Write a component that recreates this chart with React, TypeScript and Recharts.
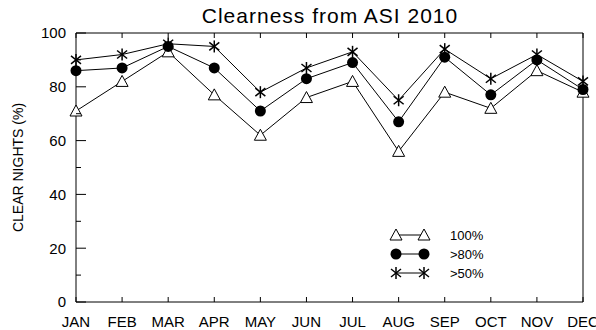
import React from 'react';
import { LineChart, Line, XAxis, YAxis, Legend } from 'recharts';

const months = ['JAN', 'FEB', 'MAR', 'APR', 'MAY', 'JUN', 'JUL', 'AUG', 'SEP', 'OCT', 'NOV', 'DEC'];
const clear100 = [71, 82, 93, 77, 62, 76, 82, 56, 78, 72, 86, 78];
const clear80 = [86, 87, 95, 87, 71, 83, 89, 67, 91, 77, 90, 79];
const clear50 = [90, 92, 96, 95, 78, 87, 93, 75, 94, 83, 92, 82];
const yTicks = [0, 10, 20, 30, 40, 50, 60, 70, 80, 90, 100];

const data = months.map((m, i) => ({
  month: m,
  c100: clear100[i],
  c80: clear80[i],
  c50: clear50[i],
}));

const FONT = '"Liberation Sans", Arial, sans-serif';

// inward tick marks, IDL style: long on multiples of 20, short in between
const LeftTick = ({ x, y, payload }: any) => {
  const major = payload.value % 20 === 0;
  return (
    <g>
      <line x1={x} y1={y} x2={x + (major ? 10 : 5)} y2={y} stroke="#000" />
      {major && (
        <text x={x - 10} y={y} dy="0.355em" textAnchor="end" fontSize={15} fontFamily={FONT} fill="#000">
          {payload.value}
        </text>
      )}
    </g>
  );
};

const RightTick = ({ x, y, payload }: any) => {
  const major = payload.value % 20 === 0;
  return <line x1={x} y1={y} x2={x - (major ? 10 : 5)} y2={y} stroke="#000" />;
};

const BottomTick = ({ x, y, payload }: any) => (
  <g>
    <line x1={x} y1={y} x2={x} y2={y - 5} stroke="#000" />
    <text x={x} y={y + 14} dy="0.71em" textAnchor="middle" fontSize={15} fontFamily={FONT} fill="#000">
      {payload.value}
    </text>
  </g>
);

const TopTick = ({ x, y }: any) => <line x1={x} y1={y} x2={x} y2={y + 5} stroke="#000" />;

const Triangle = ({ cx, cy }: any) => (
  <path
    d={`M${cx},${cy - 6} L${cx + 6},${cy + 5} L${cx - 6},${cy + 5} Z`}
    fill="#fff"
    stroke="#000"
    strokeWidth={1}
  />
);

const Circle = ({ cx, cy }: any) => <circle cx={cx} cy={cy} r={5.5} fill="#000" />;

const Star = ({ cx, cy }: any) => (
  <g stroke="#000" strokeWidth={1.5}>
    <line x1={cx} y1={cy - 6} x2={cx} y2={cy + 6} />
    <line x1={cx - 5} y1={cy - 4} x2={cx + 5} y2={cy + 4} />
    <line x1={cx - 5} y1={cy + 4} x2={cx + 5} y2={cy - 4} />
  </g>
);

const legendRows = [
  { label: '100%', Mark: Triangle },
  { label: '>80%', Mark: Circle },
  { label: '>50%', Mark: Star },
];

const LegendBox = () => (
  <svg width={110} height={60}>
    {legendRows.map(({ label, Mark }, i) => {
      const y = 9 + i * 19;
      return (
        <g key={label}>
          <line x1={12} y1={y} x2={40} y2={y} stroke="#000" />
          <Mark cx={12} cy={y} />
          <Mark cx={40} cy={y} />
          <text x={66} y={y + 5} fontSize={13} fontFamily={FONT} fill="#000">
            {label}
          </text>
        </g>
      );
    })}
  </svg>
);

export default function App() {
  return (
    <div style={{ position: 'absolute', left: 0, top: 0, width: 596, height: 330, background: '#fff' }}>
      <div
        style={{
          position: 'absolute',
          left: 77,
          width: 506,
          top: 4,
          textAlign: 'center',
          fontFamily: FONT,
          fontSize: 21,
          letterSpacing: 1,
          color: '#000',
        }}
      >
        Clearness from ASI 2010
      </div>
      <LineChart width={596} height={330} data={data} margin={{ top: 0, right: 0, bottom: 0, left: 0 }}>
        <XAxis
          dataKey="month"
          height={28}
          stroke="#000"
          tickLine={false}
          tickSize={0}
          tickMargin={0}
          interval={0}
          tick={<BottomTick />}
        />
        <XAxis
          xAxisId="top"
          dataKey="month"
          orientation="top"
          height={33}
          stroke="#000"
          tickLine={false}
          tickSize={0}
          tickMargin={0}
          interval={0}
          tick={<TopTick />}
        />
        <YAxis
          type="number"
          domain={[0, 100]}
          ticks={yTicks}
          interval={0}
          width={76}
          stroke="#000"
          tickLine={false}
          tickSize={0}
          tickMargin={0}
          tick={<LeftTick />}
          label={{
            value: 'CLEAR NIGHTS (%)',
            angle: -90,
            position: 'insideLeft',
            offset: 18,
            style: { fill: '#000', fontSize: 14, fontFamily: FONT, textAnchor: 'middle' },
          }}
        />
        <YAxis
          yAxisId="right"
          orientation="right"
          type="number"
          domain={[0, 100]}
          ticks={yTicks}
          interval={0}
          width={13}
          stroke="#000"
          tickLine={false}
          tickSize={0}
          tickMargin={0}
          tick={<RightTick />}
        />
        <Legend
          layout="horizontal"
          verticalAlign="middle"
          align="center"
          content={() => <LegendBox />}
          wrapperStyle={{ position: 'absolute', left: 384, top: 226, width: 110, height: 60 }}
        />
        <Line dataKey="c100" stroke="#000" strokeWidth={1} dot={(p: any) => <Triangle key={p.index} {...p} />} isAnimationActive={false} />
        <Line dataKey="c80" stroke="#000" strokeWidth={1} dot={(p: any) => <Circle key={p.index} {...p} />} isAnimationActive={false} />
        <Line dataKey="c50" stroke="#000" strokeWidth={1} dot={(p: any) => <Star key={p.index} {...p} />} isAnimationActive={false} />
      </LineChart>
    </div>
  );
}
